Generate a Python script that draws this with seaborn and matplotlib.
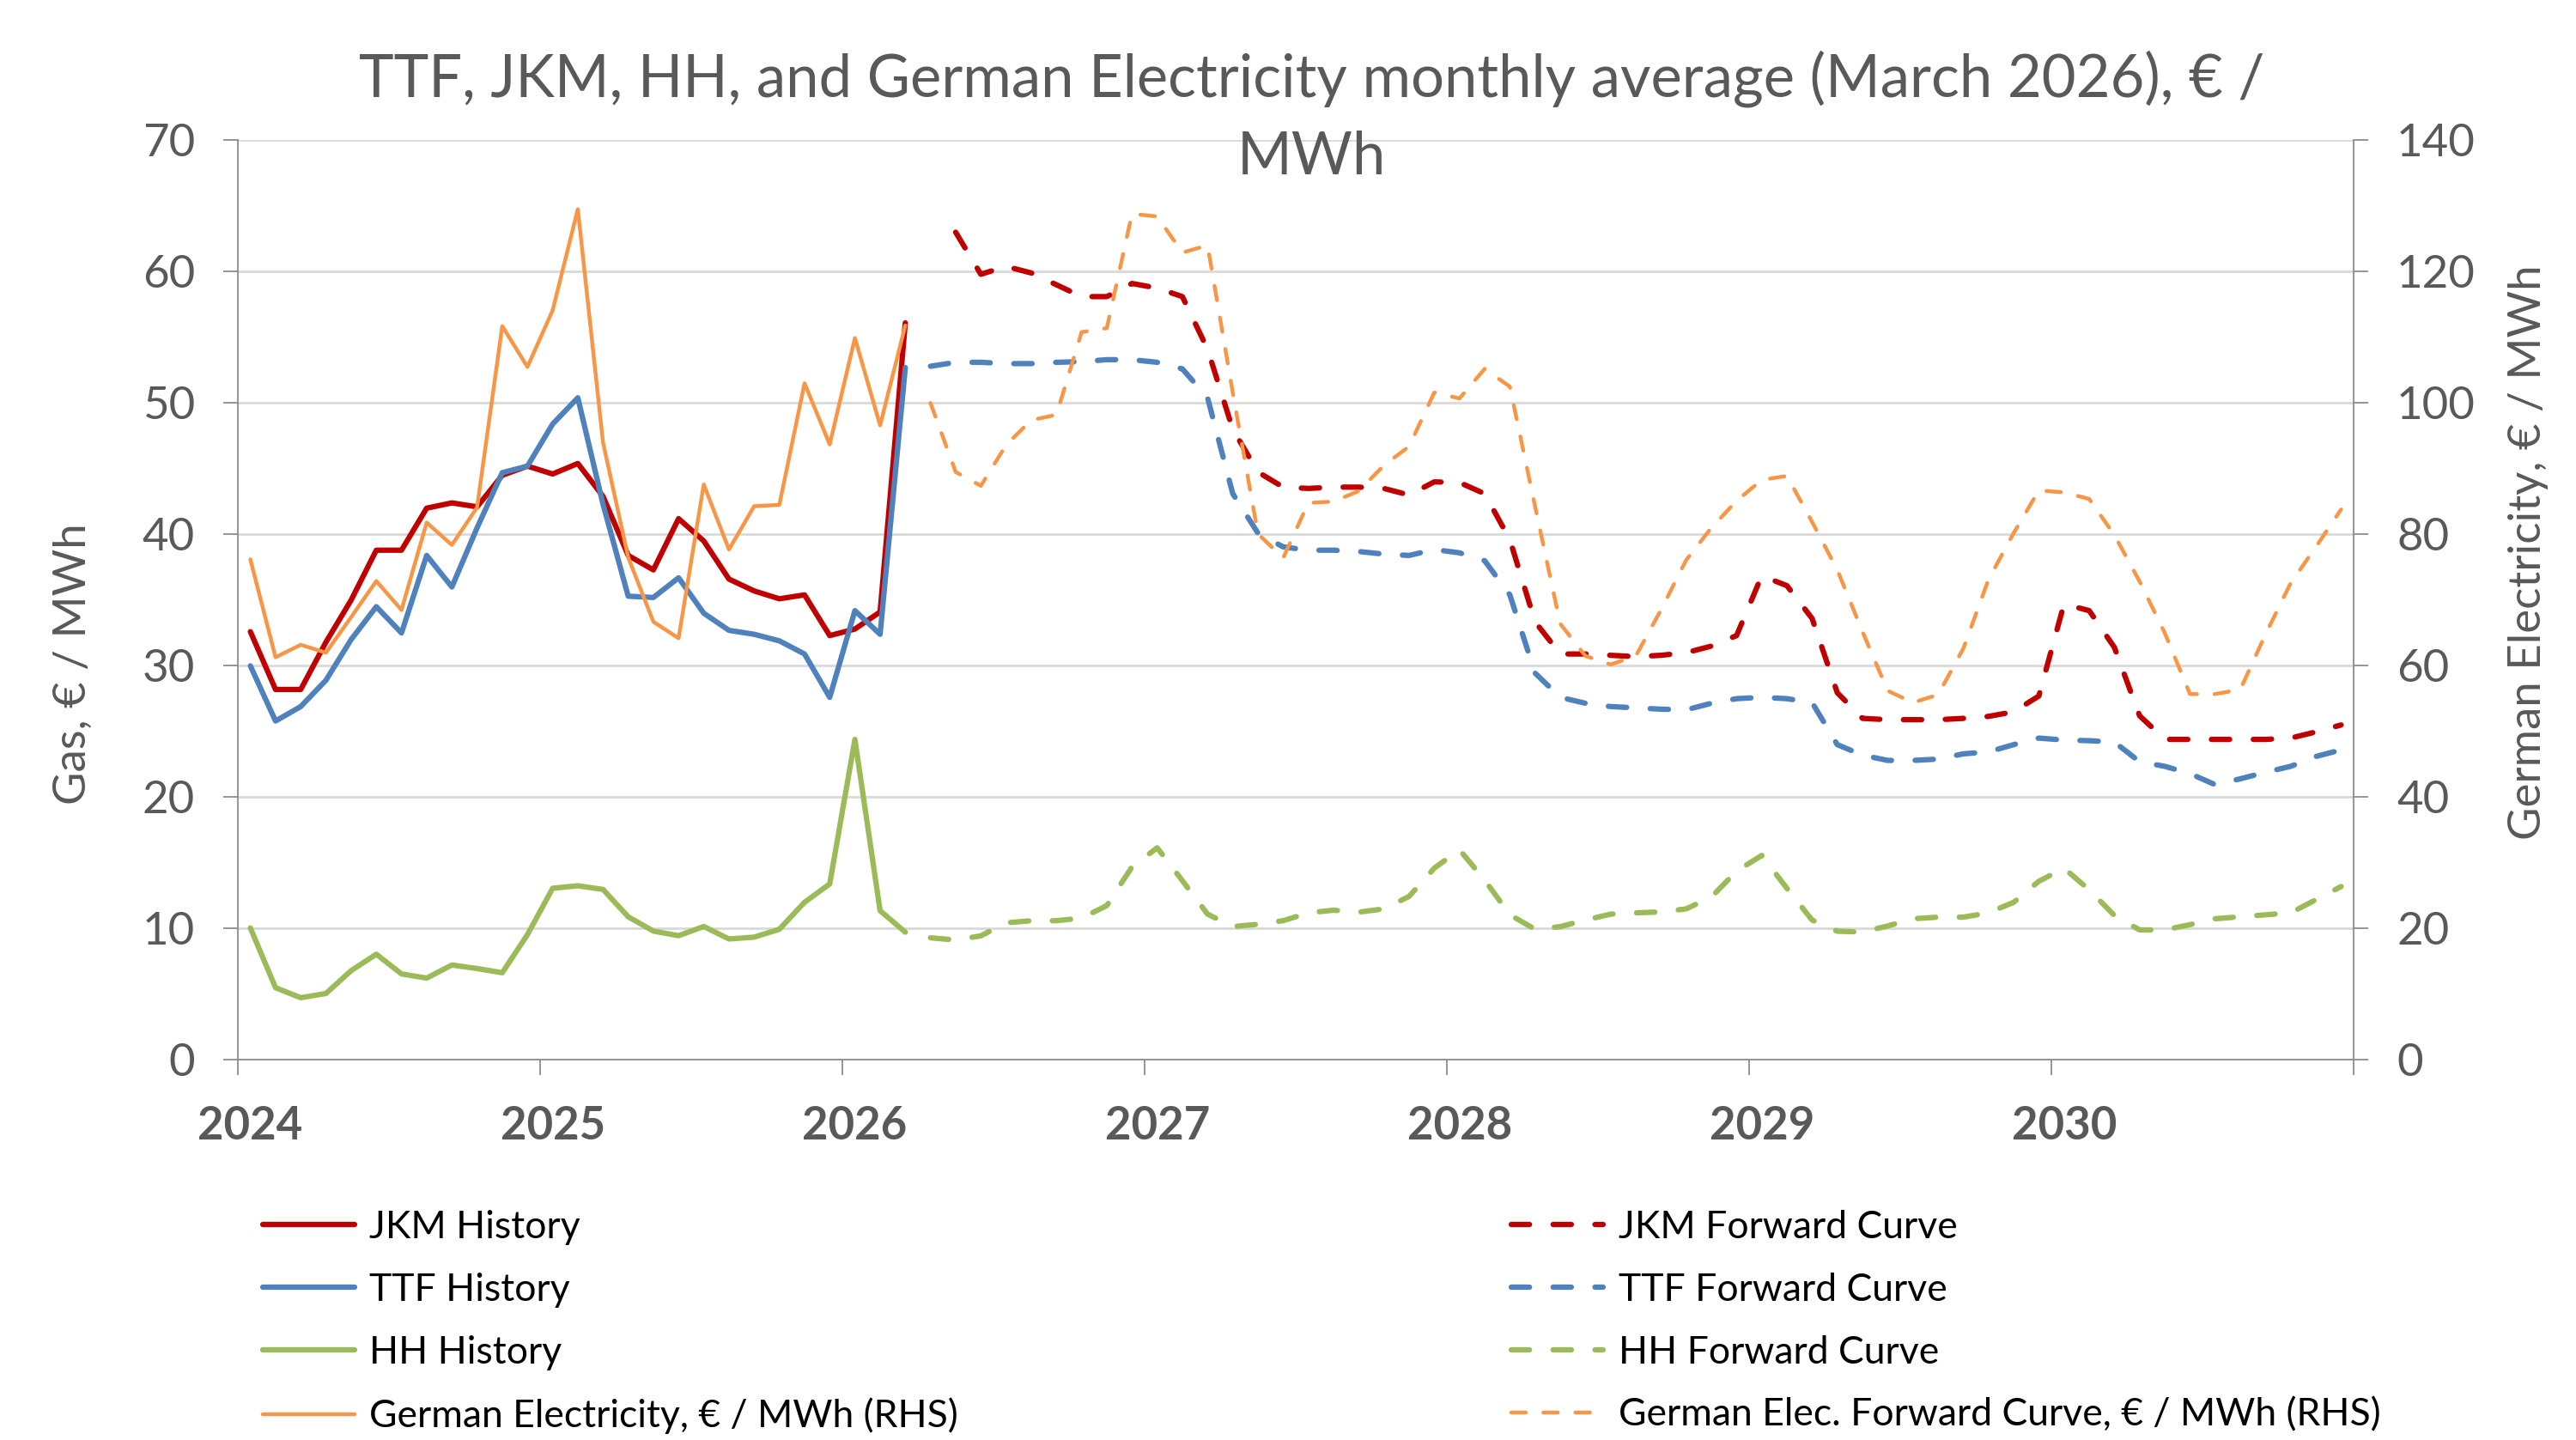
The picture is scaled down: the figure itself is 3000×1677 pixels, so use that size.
import numpy as np
import matplotlib
matplotlib.use('Agg')
import matplotlib.pyplot as plt
import seaborn as sns

# months counted from Jan 2024 (index 0)
years = ['2024', '2025', '2026', '2027', '2028', '2029', '2030']

jkm_hist = [32.6, 28.2, 28.2, 31.8, 35.0, 38.8, 38.8, 42.0, 42.4, 42.1, 44.5, 45.2, 44.6, 45.4,
            42.9, 38.4, 37.3, 41.2, 39.5, 36.6, 35.7, 35.1, 35.4, 32.3, 32.8, 34.1, 56.1]
ttf_hist = [30.0, 25.8, 26.9, 28.9, 32.0, 34.5, 32.5, 38.4, 36.0, 40.5, 44.7, 45.2, 48.4, 50.4,
            42.3, 35.3, 35.2, 36.7, 34.0, 32.7, 32.4, 31.9, 30.9, 27.6, 34.2, 32.4, 52.7]
hh_hist = [10.05, 5.5, 4.74, 5.06, 6.8, 8.05, 6.55, 6.23, 7.23, 6.96, 6.64, 9.54, 13.07, 13.26,
           12.98, 10.9, 9.81, 9.46, 10.16, 9.21, 9.35, 9.95, 12.0, 13.4, 24.4, 11.36, 9.73]
elec_hist = [76.2, 61.3, 63.2, 62.0, 67.4, 72.9, 68.5, 81.8, 78.4, 84.1, 111.7, 105.5, 114.1, 129.5,
             94.0, 76.5, 66.7, 64.2, 87.6, 77.7, 84.3, 84.5, 103.0, 93.7, 109.9, 96.6, 111.8]

# forward curves: JKM from May 2026, the others from Apr 2026, all to Dec 2030
jkm_fwd = [63.0, 59.8, 60.4, 59.9, 59.0, 58.1, 58.1, 59.1, 58.75, 58.1, 54.1, 48.0, 44.75, 43.6,
           43.5, 43.6, 43.6, 43.5, 43.0, 44.0, 43.95, 43.1, 39.6, 33.35, 30.9, 30.9, 30.8, 30.7,
           30.8, 31.0, 31.5, 32.3, 36.85, 36.1, 33.6, 27.95, 26.0, 25.9, 25.9, 25.9, 26.0, 26.15,
           26.5, 27.7, 34.7, 34.2, 31.4, 26.2, 24.4, 24.4, 24.4, 24.4, 24.4, 24.5, 24.97, 25.5]
ttf_fwd = [52.8, 53.1, 53.1, 53.0, 53.0, 53.1, 53.15, 53.3, 53.3, 53.1, 52.6, 50.4, 43.1, 40.1,
           39.05, 38.8, 38.8, 38.7, 38.5, 38.4, 38.85, 38.6, 38.0, 35.4, 29.45, 27.6, 27.15, 26.9,
           26.8, 26.7, 26.65, 27.15, 27.5, 27.6, 27.5, 27.2, 24.0, 23.2, 22.8, 22.8, 22.9, 23.3,
           23.45, 24.0, 24.5, 24.35, 24.3, 24.2, 22.7, 22.35, 21.8, 20.95, 21.4, 21.9, 22.35, 23.1,
           23.6]
hh_fwd = [9.3, 9.13, 9.45, 10.44, 10.6, 10.6, 10.8, 11.75, 14.7, 16.15, 13.65, 11.1, 10.15, 10.33,
          10.6, 11.2, 11.4, 11.25, 11.5, 12.45, 14.6, 16.0, 13.7, 11.05, 9.95, 10.15, 10.65, 11.1,
          11.2, 11.27, 11.5, 12.4, 14.37, 15.57, 13.06, 10.65, 9.8, 9.74, 10.2, 10.75, 10.87, 10.87,
          11.2, 12.0, 13.6, 14.6, 12.95, 11.0, 9.9, 9.9, 10.3, 10.75, 10.9, 11.05, 11.2, 12.2, 13.2]
elec_fwd = [100.0, 89.5, 87.4, 93.6, 97.4, 98.2, 110.8, 111.4, 128.8, 128.4, 122.9, 124.0, 101.6,
            80.1, 76.4, 84.8, 85.0, 86.6, 90.5, 93.4, 101.6, 100.7, 105.2, 102.5, 84.3, 66.4, 61.5,
            60.2, 61.5, 68.5, 76.1, 81.0, 85.1, 88.3, 88.9, 81.9, 74.6, 65.2, 56.2, 54.4, 55.6, 62.6,
            73.1, 80.2, 86.7, 86.4, 85.4, 79.9, 72.85, 65.0, 55.7, 55.7, 56.4, 64.8, 72.6, 78.1, 83.8]

hist_start = 0
jkm_fwd_start = 28
fwd_start = 27

RED = '#C00000'
BLUE = '#4F81BD'
GREEN = '#9BBB59'
ORANGE = '#F79646'
GREY_TXT = '#595959'
GREY_AX = '#8C8C8C'


def month_x(start, values):
    '''x positions: points sit in the middle of their month'''
    return np.arange(start, start + len(values)) + 0.5


sns.set_theme(style='white')
plt.rcParams['font.family'] = ['Lato', 'DejaVu Sans']

fig = plt.figure(figsize=(30, 16.77), dpi=100)
ax = fig.add_axes([0.0923, 0.2639, 0.8214, 0.6387])
ax2 = ax.twinx()

thick = 4.5
thin = 3.2
dash_thick = (0, (3.4, 4.4))
dash_thin = (0, (3.8, 4.6))
common = dict(estimator=None, sort=False, legend=False)

handles = []
for vals, col, lab in [(jkm_hist, RED, 'JKM History'),
                       (ttf_hist, BLUE, 'TTF History'),
                       (hh_hist, GREEN, 'HH History')]:
    sns.lineplot(x=month_x(hist_start, vals), y=vals, ax=ax, color=col, linewidth=thick,
                 label=lab, solid_joinstyle='round', solid_capstyle='round', **common)
    handles.append(ax.lines[-1])

sns.lineplot(x=month_x(hist_start, elec_hist), y=elec_hist, ax=ax2, color=ORANGE, linewidth=thin,
             label='German Electricity, € / MWh (RHS)', solid_joinstyle='round',
             solid_capstyle='round', **common)
handles.append(ax2.lines[-1])

fwd_handles = []
for vals, start, col, lab in [(jkm_fwd, jkm_fwd_start, RED, 'JKM Forward Curve'),
                              (ttf_fwd, fwd_start, BLUE, 'TTF Forward Curve'),
                              (hh_fwd, fwd_start, GREEN, 'HH Forward Curve')]:
    sns.lineplot(x=month_x(start, vals), y=vals, ax=ax, color=col, linewidth=thick,
                 linestyle=dash_thick, dash_capstyle='round', dash_joinstyle='round',
                 label=lab, **common)
    fwd_handles.append(ax.lines[-1])

sns.lineplot(x=month_x(fwd_start, elec_fwd), y=elec_fwd, ax=ax2, color=ORANGE, linewidth=thin,
             linestyle=dash_thin, dash_capstyle='round', dash_joinstyle='round',
             label='German Elec. Forward Curve, € / MWh (RHS)', **common)
fwd_handles.append(ax2.lines[-1])

# axes, ticks, grid
ax.set_xlim(0, 84)
ax.set_ylim(0, 70)
ax2.set_ylim(0, 140)
ax.set_yticks(range(0, 71, 10))
ax2.set_yticks(range(0, 141, 20))
ax.yaxis.grid(True, color='#D9D9D9', linewidth=2.0)
ax.set_axisbelow(True)

ax.set_xticks(range(0, 85, 12))
ax.set_xticklabels([])
ax.set_xticks([12 * k + 0.5 for k in range(len(years))], minor=True)
ax.set_xticklabels(years, minor=True, fontweight='bold')

ax.tick_params(axis='x', which='major', direction='out', length=13, width=1.3, color=GREY_AX,
               bottom=True)
ax.tick_params(axis='x', which='minor', length=0, pad=38, labelsize=38, labelcolor=GREY_TXT,
               bottom=True)
ax.tick_params(axis='y', direction='out', length=12, width=1.3, color=GREY_AX, pad=24,
               labelsize=38, labelcolor=GREY_TXT, left=True)
ax2.tick_params(axis='y', direction='out', length=12, width=1.3, color=GREY_AX, pad=24,
                labelsize=38, labelcolor=GREY_TXT, right=True)

for a in (ax, ax2):
    a.spines['top'].set_visible(False)
    for s in ('left', 'right', 'bottom'):
        a.spines[s].set_color(GREY_AX)
        a.spines[s].set_linewidth(1.3)
ax.spines['right'].set_visible(False)
ax2.spines['left'].set_visible(False)
ax2.spines['bottom'].set_visible(False)

ax.set_ylabel('Gas, € / MWh', fontsize=38, color=GREY_TXT)
ax.yaxis.set_label_coords(-0.068, 0.431)
ax2.set_ylabel('German Electricity, € / MWh', fontsize=38, color=GREY_TXT)
ax2.yaxis.set_label_coords(1.073, 0.552)

# title, wrapped as in the original
fig.text(0.5093, 0.9332, 'TTF, JKM, HH, and German Electricity monthly average (March 2026), € /',
         ha='center', va='baseline', fontsize=49.5, color=GREY_TXT)
fig.text(0.5093, 0.8790, 'MWh', ha='center', va='baseline', fontsize=49.5, color=GREY_TXT)

leg_kw = dict(loc='upper left', frameon=False, fontsize=32, handlelength=2.4,
              handletextpad=0.4, labelspacing=0.72, borderpad=0, borderaxespad=0)
leg1 = fig.legend(handles, [h.get_label() for h in handles],
                  bbox_to_anchor=(0.102, 0.160), **leg_kw)
leg2 = fig.legend(fwd_handles, [h.get_label() for h in fwd_handles],
                  bbox_to_anchor=(0.5867, 0.160), **leg_kw)
for leg in (leg1, leg2):
    for t in leg.get_texts():
        t.set_color('black')

fig.savefig('out.png', dpi=100)
